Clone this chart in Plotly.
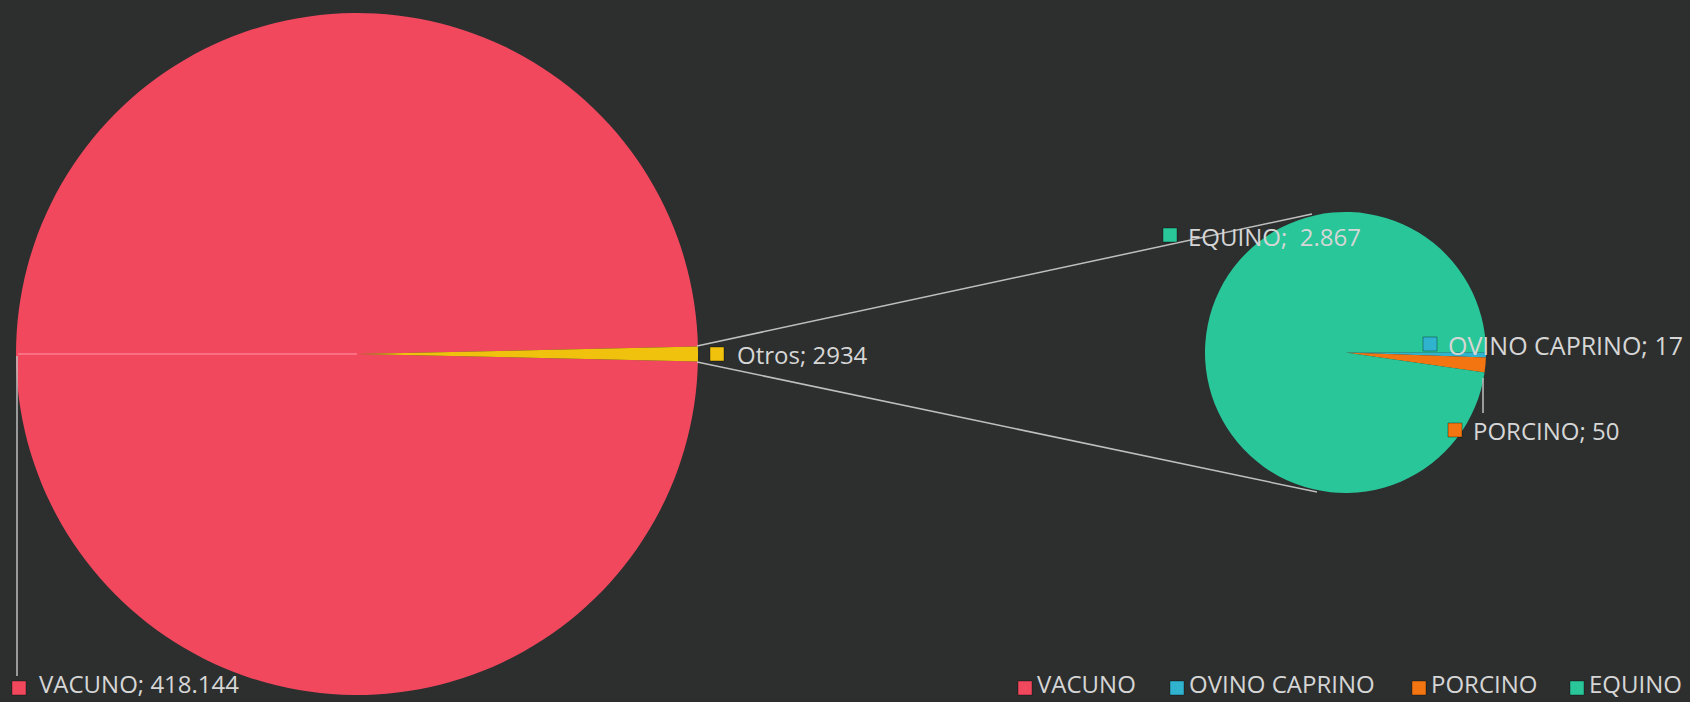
import plotly.graph_objects as go

# ---------------- data ----------------
main_labels = ["VACUNO", "Otros"]
main_values = [418144, 2934]
sub_labels = ["OVINO CAPRINO", "PORCINO", "EQUINO"]
sub_values = [17, 50, 2867]
legend_labels = ["VACUNO", "OVINO CAPRINO", "PORCINO", "EQUINO"]

colors = {
    "VACUNO": "#f2485e",
    "Otros": "#f0c20e",
    "OVINO CAPRINO": "#2fb3cf",
    "PORCINO": "#f27511",
    "EQUINO": "#28c699",
}

W, H = 1690, 702
BG = "#2d2f2f"
TXT = "#d6d6d6"
FONT = "Open Sans"
FS = 24


def fmt_es(v, thousands=True):
    s = f"{v:,}" if thousands else f"{v}"
    return s.replace(",", ".")


def px(x):
    return x / W


def py(y):
    return 1 - y / H


# layout geometry (pixels)
big_box = (16, 13, 698, 695)      # x0, y0, x1, y1
small_box = (1205, 212, 1486, 493)

fig = go.Figure()

otros_angle = 360 * main_values[1] / sum(main_values)
fig.add_trace(go.Pie(
    labels=main_labels, values=main_values, sort=False,
    direction="clockwise", rotation=90 + otros_angle / 2,
    marker=dict(colors=[colors[l] for l in main_labels], line=dict(width=0)),
    textinfo="none", hoverinfo="label+value", showlegend=False,
    domain=dict(x=[px(big_box[0]), px(big_box[2])], y=[py(big_box[3]), py(big_box[1])]),
))
fig.add_trace(go.Pie(
    labels=sub_labels, values=sub_values, sort=False,
    direction="clockwise", rotation=90,
    marker=dict(colors=[colors[l] for l in sub_labels], line=dict(width=0)),
    textinfo="none", hoverinfo="label+value", showlegend=False,
    domain=dict(x=[px(small_box[0]), px(small_box[2])], y=[py(small_box[3]), py(small_box[1])]),
))

shapes = []
annotations = []

LINE = "#bfbfbf"
# connector lines between the two pies
shapes.append(dict(type="line", xref="paper", yref="paper",
                   x0=px(697), y0=py(346), x1=px(1312), y1=py(214),
                   line=dict(color=LINE, width=1.5)))
shapes.append(dict(type="line", xref="paper", yref="paper",
                   x0=px(697), y0=py(362), x1=px(1317), y1=py(492),
                   line=dict(color=LINE, width=1.5)))
# leader lines
shapes.append(dict(type="line", xref="paper", yref="paper",
                   x0=px(17), y0=py(356), x1=px(17), y1=py(676),
                   line=dict(color=LINE, width=1.5)))
shapes.append(dict(type="line", xref="paper", yref="paper",
                   x0=px(1483), y0=py(378), x1=px(1483), y1=py(413),
                   line=dict(color=LINE, width=1.5)))
# bevel seam in the big pie
cx = (big_box[0] + big_box[2]) / 2
cy = (big_box[1] + big_box[3]) / 2
shapes.append(dict(type="line", xref="paper", yref="paper",
                   x0=px(big_box[0] + 2), y0=py(cy), x1=px(cx), y1=py(cy),
                   line=dict(color="rgba(255,140,155,0.6)", width=2)))


def key(x, y, color):
    shapes.append(dict(type="rect", xref="paper", yref="paper",
                       x0=px(x), y0=py(y), x1=px(x + 14), y1=py(y + 14),
                       fillcolor=color, line=dict(color="rgba(0,0,0,0.35)", width=1)))


def text(x, y, s, anchor="middle", size=FS):
    annotations.append(dict(x=px(x), y=py(y), xref="paper", yref="paper",
                            text=s, showarrow=False, xanchor="left", yanchor=anchor,
                            font=dict(family=FONT, size=size, color=TXT)))


# data labels
data_labels = [
    ("Otros", f"Otros; {fmt_es(main_values[1], False)}", 710, 347, 735, 354, FS),
    ("EQUINO", f"EQUINO;  {fmt_es(sub_values[2])}", 1163, 228, 1186, 236, FS),
    ("OVINO CAPRINO", f"OVINO CAPRINO; {fmt_es(sub_values[0])}", 1423, 337, 1446, 345, 25),
    ("PORCINO", f"PORCINO; {fmt_es(sub_values[1])}", 1448, 423, 1471, 430, FS),
]
for lab, s, kx, ky, tx, ty, fs in data_labels:
    key(kx, ky, colors[lab])
    text(tx, ty, s, size=fs)

# bottom row (VACUNO data label + legend), kept inside the page
key(12, 681, colors["VACUNO"])
text(37, 701.5, f"VACUNO; {fmt_es(main_values[0])}", anchor="bottom")

legend_x = [1018, 1170, 1412, 1570]
for lab, lx in zip(legend_labels, legend_x):
    key(lx, 681, colors[lab])
    text(lx + 17, 701.5, lab, anchor="bottom")

fig.update_layout(
    width=W, height=H,
    margin=dict(l=0, r=0, t=0, b=0),
    paper_bgcolor=BG, plot_bgcolor=BG,
    shapes=shapes, annotations=annotations,
    showlegend=False,
)

fig.write_html(
    "out.html",
    config={"displayModeBar": False},
    post_script="document.body.style.margin='0';document.body.style.overflow='hidden';",
)
